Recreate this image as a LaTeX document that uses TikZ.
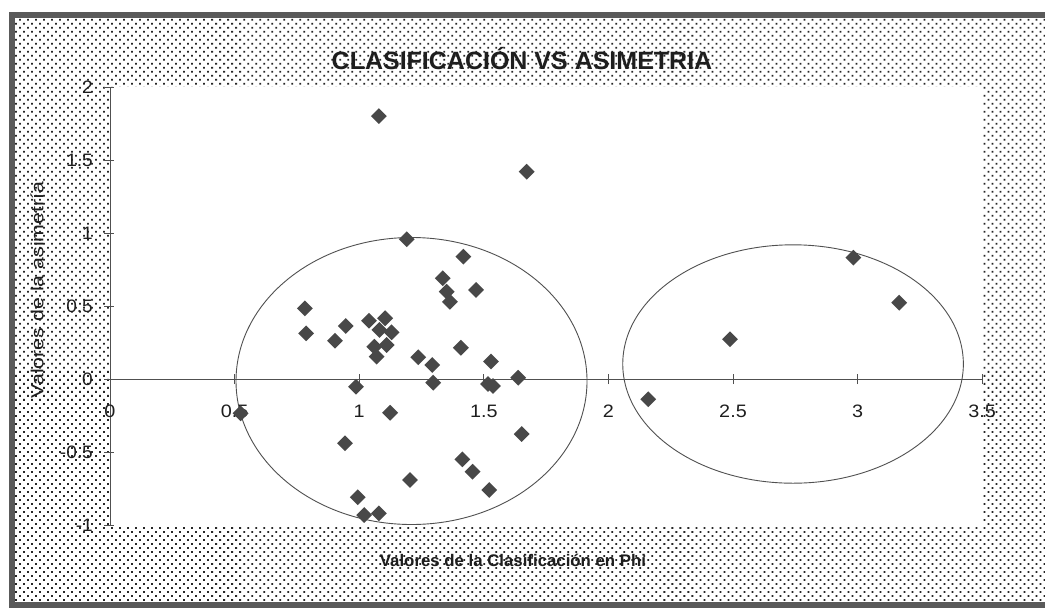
\documentclass[tikz,border=0pt]{standalone}
\usepackage{fontspec}
\setmainfont{Liberation Sans}
\usetikzlibrary{patterns.meta,shapes.geometric}
\definecolor{markgray}{HTML}{484848}
\definecolor{axisgray}{HTML}{505050}
\definecolor{framegray}{HTML}{5A5A5A}
\definecolor{txt}{HTML}{1E1E1E}
\tikzset{
  axisline/.style={draw=axisgray, line width=0.9pt},
  ringline/.style={draw=axisgray, line width=0.9pt},
  mk/.style={diamond, fill=markgray, draw=none, inner sep=0pt, minimum width=16pt, minimum height=16pt},
  ticklbl/.style={inner sep=0pt, text=txt, font=\fontsize{18}{18}\selectfont},
  ttl/.style={inner sep=0pt, text=txt, font=\bfseries\fontsize{25}{25}\selectfont},
  axttl/.style={inner sep=0pt, text=txt},
}
\begin{document}
\begin{tikzpicture}[x=1pt,y=-1pt]
\useasboundingbox (0,0) rectangle (1045,608);
\fill[white] (0,0) rectangle (1045,608);
% dotted chart background
\fill[pattern={Dots[distance=5.66pt,radius=1.25pt,angle=45]}, pattern color=black!85] (11,15) rectangle (1045,606);
% frame
\draw[line width=6pt, draw=framegray] (1046,15) -- (11.5,15) -- (11.5,605) -- (1046,605);
% title and axis titles
\node[ttl] (title) at (522,59) {CLASIFICACIÓN VS ASIMETRIA};
\node[axttl, font=\bfseries\fontsize{16.8}{16.8}\selectfont] (xtitle) at (513,560) {Valores de la Clasificación en Phi};
\node[axttl, font=\fontsize{17.5}{17.5}\selectfont, rotate=90] (ytitle) at (37,290) {\scalebox{1.22}[1]{Valores de la asimetría}};
\begin{scope}[xshift=110pt, yshift=-379pt, x=249.2pt, y=146pt]
  \fill[white] (0,-1) rectangle (3.5,2);
  % axes
  \draw[axisline] (0,-1) -- (0,2);
  \draw[axisline] (0,0) -- (3.5,0);
  \foreach \v/\l in {2/2,1.5/1.5,1/1,0.5/0.5,0/0,-0.5/-0.5,-1/-1}{
    \draw[axisline] (0,\v) ++(-6pt,0) -- ++(10pt,0);
    \node[ticklbl, anchor=east] (yl\l) at ([xshift=-17pt]0,\v) {\scalebox{1.06}[1]{\l}};
  }
  \foreach \v in {0.5,1,1.5,2,2.5,3,3.5}{
    \draw[axisline] (\v,0) ++(0,-5pt) -- ++(0,10pt);
  }
  \foreach \v in {0,0.5,1,1.5,2,2.5,3,3.5}{
    \node[ticklbl] (xl\v) at ([yshift=-32pt]\v,0) {\scalebox{1.1}[1]{\v}};
  }
  % cluster ellipses
  \draw[ringline] (1.2099,-0.0137) ellipse [x radius=175.5pt, y radius=143.5pt];
  \draw[ringline] (2.741,0.1027) ellipse [x radius=170.3pt, y radius=119.2pt];
  % data points
  \foreach \px/\py [count=\i] in {
    1.079/1.801, 1.672/1.420, 1.191/0.957, 1.418/0.838, 1.335/0.690,
    1.469/0.610, 1.351/0.598, 1.364/0.529, 0.782/0.484, 0.787/0.313,
    0.946/0.363, 0.903/0.262, 1.039/0.399, 1.104/0.416, 1.081/0.336,
    1.130/0.320, 1.061/0.221, 1.110/0.233, 1.070/0.153, 1.408/0.214,
    1.237/0.149, 1.293/0.096, 1.297/-0.025, 1.529/0.120, 1.517/-0.034,
    1.537/-0.048, 0.987/-0.053, 1.638/0.009, 1.124/-0.231, 0.524/-0.235,
    0.943/-0.440, 1.414/-0.550, 1.455/-0.635, 1.522/-0.760, 1.204/-0.692,
    0.994/-0.810, 1.020/-0.932, 1.079/-0.920, 1.652/-0.377, 2.160/-0.139,
    2.488/0.272, 2.983/0.831, 3.167/0.523}{
    \node[mk] (m\i) at (\px,\py) {};
  }
\end{scope}
\end{tikzpicture}
\end{document}
